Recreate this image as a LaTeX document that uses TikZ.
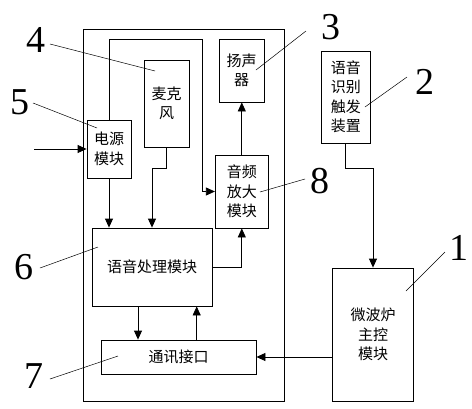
\documentclass[tikz,border=0pt]{standalone}
\usepackage{fontspec}
\setmainfont{Liberation Serif}
\newfontfamily\cjk{Noto Sans CJK SC}
\usetikzlibrary{arrows.meta,positioning}

\begin{document}
\begin{tikzpicture}[x=1pt,y=-1pt,line width=0.8pt,
        box/.style={draw,inner sep=0pt,align=center,font=\cjk\fontsize{15}{19.5}\selectfont},
        arr/.style={-{Triangle[length=9pt,width=8pt]}},
        num/.style={font=\fontsize{38}{38}\selectfont,inner sep=0pt},
        lead/.style={line width=0.5pt}]

        \useasboundingbox (0,0) rectangle (472,408);

        % outer housing
        \draw (83,29) rectangle (284,401);

        \node[box,minimum width=45pt,minimum height=87pt] (mic) at (166.5,103.5) {麦克\\风};
        \node[box,minimum width=44pt,minimum height=58pt] (power) at (109,149) {电源\\模块};
        \node[box,minimum width=45pt,minimum height=63pt] (spk) at (241.5,70.5) {扬声\\器};
        \node[box,minimum width=53pt,minimum height=73pt] (amp) at (241.8,191.5) {音频\\放大\\模块};
        \node[box,minimum width=49pt,minimum height=92pt] (trig) at (345.8,97) {语音\\识别\\触发\\装置};
        \node[box,minimum width=81pt,minimum height=133pt] (main) at (373,334.5) {微波炉\\主控\\模块};
        \node[box,minimum width=120pt,minimum height=78pt] (speech) at (152,267) {语音处理模块};
        \node[box,minimum width=155pt,minimum height=34pt] (comm) at (178.5,357) {通讯接口};

        \coordinate (in) at (34,149);
        \coordinate (loop) at (202,39);
        \coordinate (micbend) at (152,168);
        \coordinate (trigbend) at (373,168);

        \draw[arr] (in) -- (power.west);
        \draw[arr] (power.south) -- (power.south |- speech.north);
        \draw[arr] (mic.south) |- (micbend) -- (micbend |- speech.north);
        \draw[arr] (power.north) |- (loop) |- (amp.west);
        \draw[arr] (speech.east) -| (amp.south);
        \draw[arr] (amp.north) -- (amp.north |- spk.south);
        \draw[arr] (trig.south) |- (trigbend) -- (main.north);
        \draw[arr] (main.west |- comm.east) -- (comm.east);
        \draw[arr] ([xshift=-14pt]speech.south) -- ([xshift=-14pt]speech.south |- comm.north);
        \draw[arr] ([xshift=44.7pt]speech.south |- comm.north) -- ([xshift=44.7pt]speech.south);

        % part numbers
        \node[num] (l1) at (459,248) {1};
        \node[num] (l2) at (425,82) {2};
        \node[num] (l3) at (331,27) {3};
        \node[num] (l4) at (36,40) {4};
        \node[num] (l5) at (20,102) {5};
        \node[num] (l6) at (24,267) {6};
        \node[num] (l7) at (34,376) {7};
        \node[num] (l8) at (320,181) {8};

        \draw[lead] (445,252) coordinate (t1) -- (406,291) coordinate (p1);
        \draw[lead] (407,77) coordinate (t2) -- (365,107) coordinate (p2);
        \draw[lead] (306,31) coordinate (t3) -- (256,70) coordinate (p3);
        \draw[lead] (50,44) coordinate (t4) -- (155,71) coordinate (p4);
        \draw[lead] (33,103) coordinate (t5) -- (97,128) coordinate (p5);
        \draw[lead] (40,268) coordinate (t6) -- (98,247) coordinate (p6);
        \draw[lead] (50,379) coordinate (t7) -- (118,356) coordinate (p7);
        \draw[lead] (305,179) coordinate (t8) -- (260,192) coordinate (p8);

    \end{tikzpicture}
\end{document}
